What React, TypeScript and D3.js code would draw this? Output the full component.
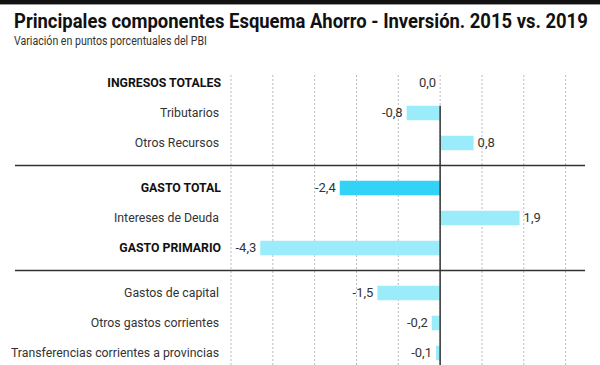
import { useEffect, useRef } from "react";
import * as d3 from "d3";

const categories = [
  "INGRESOS TOTALES",
  "Tributarios",
  "Otros Recursos",
  "GASTO TOTAL",
  "Intereses de Deuda",
  "GASTO PRIMARIO",
  "Gastos de capital",
  "Otros gastos corrientes",
  "Transferencias corrientes a provincias",
];
const values = [0.0, -0.8, 0.8, -2.4, 1.9, -4.3, -1.5, -0.2, -0.1];
const groups = [0, 0, 0, 1, 1, 1, 2, 2, 2];
const boldRows = ["INGRESOS TOTALES", "GASTO TOTAL", "GASTO PRIMARIO"];
const highlightRows = ["GASTO TOTAL"];
const gridTicks = [-5, -4, -3, -2, -1, 0, 1, 2, 3];

const FONT = "Roboto, 'Liberation Sans', sans-serif";

export default function App() {
  const svgRef = useRef<SVGSVGElement>(null);

  useEffect(() => {
    if (!svgRef.current) return;
    const width = 600;
    const height = 365;

    d3.select(svgRef.current).selectAll("*").remove();
    const svg = d3
      .select(svgRef.current)
      .attr("width", width)
      .attr("height", height);

    svg.append("rect").attr("width", width).attr("height", height).attr("fill", "#fff");

    // top rule
    svg.append("rect").attr("width", width).attr("height", 4).attr("fill", "#111");
    svg.append("rect").attr("y", 4).attr("width", width).attr("height", 1).attr("fill", "#999");

    // squeeze a text horizontally so it spans the given width (condensed look)
    const fit = (
      t: d3.Selection<SVGTextElement, unknown, null, undefined>,
      x0: number,
      y0: number,
      w: number
    ) => {
      const node = t.node();
      const natural = node ? node.getComputedTextLength() : w;
      const k = natural > 0 ? w / natural : 1;
      t.attr("transform", `translate(${x0},${y0}) scale(${k},1)`);
    };

    const title = svg
      .append("text")
      .attr("font-family", FONT)
      .attr("font-weight", 700)
      .attr("font-size", 19.5)
      .attr("fill", "#111")
      .text("Principales componentes Esquema Ahorro - Inversión. 2015 vs. 2019");
    fit(title, 14, 28, 574);

    const subtitle = svg
      .append("text")
      .attr("font-family", FONT)
      .attr("font-size", 13)
      .attr("fill", "#333")
      .text("Variación en puntos porcentuales del PBI");
    fit(subtitle, 14, 45, 193);

    // Scales
    const x = d3.scaleLinear().domain([-5, 3]).range([231, 565.6]);
    const slot = (i: number) => i + groups[i] * 0.5;
    const y = d3.scaleLinear().domain([0, 9]).range([83, 353]);
    const barH = 14.5;

    // dotted gridlines
    svg
      .append("g")
      .selectAll("line")
      .data(gridTicks)
      .join("line")
      .attr("x1", (d) => x(d))
      .attr("x2", (d) => x(d))
      .attr("y1", 75)
      .attr("y2", height)
      .attr("stroke", "#bbb")
      .attr("stroke-width", 1)
      .attr("stroke-dasharray", "2,2");

    // group dividers
    const dividers = [2.75, 6.25];
    svg
      .append("g")
      .selectAll("line")
      .data(dividers)
      .join("line")
      .attr("x1", 15)
      .attr("x2", 585)
      .attr("y1", (d) => y(d))
      .attr("y2", (d) => y(d))
      .attr("stroke", "#333")
      .attr("stroke-width", 1.5);

    const rows = categories.map((c, i) => ({ c, v: values[i], i }));

    // bars
    svg
      .append("g")
      .selectAll("rect")
      .data(rows)
      .join("rect")
      .attr("x", (d) => x(Math.min(0, d.v)))
      .attr("y", (d) => y(slot(d.i)) - barH / 2)
      .attr("width", (d) => Math.abs(x(d.v) - x(0)))
      .attr("height", barH)
      .attr("fill", (d) => (highlightRows.includes(d.c) ? "#33d2f7" : "#9becfa"));

    // zero axis
    svg
      .append("line")
      .attr("x1", x(0))
      .attr("x2", x(0))
      .attr("y1", y(slot(1)) - barH / 2)
      .attr("y2", height)
      .attr("stroke", "#333")
      .attr("stroke-width", 1.5);

    // category labels
    svg
      .append("g")
      .selectAll("text")
      .data(rows)
      .join("text")
      .attr("x", (d) => (boldRows.includes(d.c) ? 221 : 219))
      .attr("y", (d) => y(slot(d.i)))
      .attr("dy", "0.36em")
      .attr("text-anchor", "end")
      .attr("font-family", FONT)
      .attr("font-size", 12.3)
      .attr("font-weight", (d) => (boldRows.includes(d.c) ? 700 : 400))
      .attr("fill", (d) => (boldRows.includes(d.c) ? "#111" : "#333"))
      .text((d) => d.c);

    // value labels
    const fmt = (v: number) => v.toFixed(1).replace(".", ",");
    svg
      .append("g")
      .selectAll("text")
      .data(rows)
      .join("text")
      .attr("x", (d) => (d.v > 0 ? x(d.v) + 4 : x(d.v) - 4))
      .attr("y", (d) => y(slot(d.i)) - 1)
      .attr("dy", "0.36em")
      .attr("text-anchor", (d) => (d.v > 0 ? "start" : "end"))
      .attr("font-family", FONT)
      .attr("font-size", 13)
      .attr("fill", "#333")
      .text((d) => fmt(d.v));
  }, []);

  return (
    <div style={{ position: "absolute", left: 0, top: 0 }}>
      <svg ref={svgRef} style={{ display: "block" }} />
    </div>
  );
}
